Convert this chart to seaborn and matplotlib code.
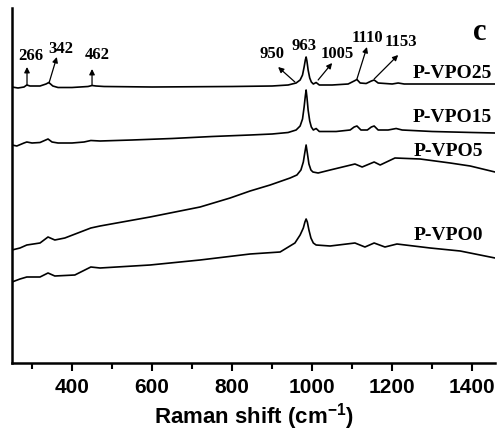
import matplotlib
matplotlib.use("Agg")
import matplotlib.pyplot as plt
import seaborn as sns
import pandas as pd

# ---- data (Raman shift in cm-1, intensity in arbitrary units, offset stacked) ----
x_vpo25 = [250, 265, 280, 287, 295, 320, 335, 342, 352, 365, 400, 440, 450, 460, 480, 600, 800, 900, 940,
           960, 970, 976, 980, 983, 985, 987, 990, 994, 998, 1003, 1010, 1018, 1050, 1090, 1105, 1112,
           1120, 1135, 1148, 1155, 1165, 1200, 1215, 1230, 1300, 1400, 1457]
y_vpo25 = [275, 274, 275, 277, 276, 276, 278, 279.5, 276, 274.5, 274.5, 275.5, 276.5, 276, 275.5, 275, 275.5,
           276, 277, 279, 282, 287, 295, 302, 305, 301, 292, 284, 280, 278, 279.5, 277, 277, 278, 281,
           282.5, 279, 278.5, 281, 282, 279, 278, 279, 278, 278, 278, 278]

x_vpo15 = [250, 262, 280, 287, 300, 320, 340, 350, 365, 400, 430, 447, 470, 550, 650, 750, 845, 900, 940,
           960, 970, 976, 980, 983, 985, 987, 990, 994, 998, 1003, 1010, 1018, 1060, 1095, 1105, 1112,
           1122, 1138, 1148, 1155, 1165, 1190, 1210, 1225, 1300, 1400, 1457]
y_vpo15 = [217, 216, 219, 220, 219, 219.5, 223, 220, 219, 219, 220, 221.5, 221, 222, 223.5, 225.5, 227, 228,
           229.5, 232, 236, 243, 255, 266, 272, 265, 252, 241, 235, 232, 233.5, 230.5, 230.5, 232, 235,
           236, 232, 232, 235, 236, 232, 232, 233.5, 232, 230.5, 229.5, 229]

x_vpo5 = [250, 270, 287, 320, 340, 357, 382, 447, 470, 595, 720, 795, 845, 895, 945, 962, 972, 978, 982,
          985, 988, 992, 997, 1002, 1015, 1045, 1107, 1125, 1155, 1170, 1207, 1270, 1345, 1395, 1457]
y_vpo5 = [112, 114, 117, 119, 125, 122, 124, 134, 136, 145, 155, 164, 171, 177, 184, 187, 192, 200, 210,
          217, 209, 198, 192, 190, 189, 192, 198, 195, 200, 197, 204, 203, 199, 196, 190]

x_vpo0 = [250, 270, 287, 320, 340, 357, 407, 447, 470, 595, 720, 845, 920, 957, 970, 978, 982, 985, 988,
          992, 997, 1003, 1010, 1045, 1107, 1132, 1155, 1182, 1212, 1295, 1370, 1457]
y_vpo0 = [80, 83, 85, 85, 89, 86, 87, 95, 94, 97, 102, 108, 110, 119, 127, 134, 140, 143, 140,
          132, 124, 119, 117, 116, 119, 115, 119, 115, 118, 114, 111, 104]

sample_labels = ["P-VPO25", "P-VPO15", "P-VPO5", "P-VPO0"]
label_x = [1450, 1450, 1427, 1427]
label_y = [288, 245, 210, 126]

peak_labels = ["266", "342", "462", "950", "963", "1005", "1110", "1153"]
peak_text_xy = [(297, 306), (372, 313), (462, 307), (900, 308), (980, 316), (1062, 308), (1137, 324), (1222, 320)]
peak_arrow_from = [(287.5, 277), (342.5, 279), (450, 277), (957, 280), None, (1015, 282), (1112, 283), (1155, 283)]
peak_arrow_to = [(287.5, 295), (362, 305), (450, 293), (915, 295), None, (1050, 299), (1137, 315), (1215, 307)]

x_ticks = [400, 600, 800, 1000, 1200, 1400]
x_minor_ticks = [300, 500, 700, 900, 1100, 1300]

# ---- style ----
sns.set_theme(style="ticks")
plt.rcParams["font.family"] = ["Liberation Sans", "DejaVu Sans"]
plt.rcParams["text.color"] = "black"
plt.rcParams["axes.labelcolor"] = "black"
plt.rcParams["xtick.color"] = "black"
plt.rcParams["mathtext.fontset"] = "custom"
plt.rcParams["mathtext.rm"] = "Liberation Sans:bold"
plt.rcParams["mathtext.it"] = "Liberation Sans:bold"
plt.rcParams["mathtext.bf"] = "Liberation Sans:bold"

fig = plt.figure(figsize=(5.01, 4.32), dpi=100)
ax = fig.add_axes([12 / 501, 69 / 432, 483 / 501, 355 / 432])

series = [(x_vpo25, y_vpo25), (x_vpo15, y_vpo15), (x_vpo5, y_vpo5), (x_vpo0, y_vpo0)]
for (xs, ys), name in zip(series, sample_labels):
    df = pd.DataFrame({"x": xs, "y": ys})
    sns.lineplot(data=df, x="x", y="y", ax=ax, color="black", linewidth=1.2,
                 estimator=None, sort=False, legend=False)

for name, lx, ly in zip(sample_labels, label_x, label_y):
    ax.text(lx, ly, name, ha="right", va="center", fontsize=14, fontweight="bold",
            family="Liberation Serif", color="black")

for lab, (tx, ty), a0, a1 in zip(peak_labels, peak_text_xy, peak_arrow_from, peak_arrow_to):
    ax.text(tx, ty, lab, ha="center", va="center", fontsize=12, fontweight="bold",
            family="Liberation Serif", color="black")
    if a0 is not None:
        ax.annotate("", xy=a1, xytext=a0,
                    arrowprops=dict(arrowstyle="-|>", color="black", lw=0.9,
                                    mutation_scale=8, shrinkA=0, shrinkB=0))

ax.text(1420, 330, "c", ha="center", va="center", fontsize=22, fontweight="bold",
        family="Liberation Serif", color="black")

ax.set_xlim(250, 1457)
ax.set_ylim(-1, 354)
ax.set_xticks(x_ticks)
ax.set_xticks(x_minor_ticks, minor=True)
ax.set_yticks([])
ax.set_ylabel("")
ax.set_xlabel(r"Raman shift (cm$^{-1}$)", fontsize=16, fontweight="bold", labelpad=3, color="black")
for lab in ax.get_xticklabels():
    lab.set_fontweight("bold")
ax.tick_params(axis="x", which="major", direction="out", length=6, width=1.5, labelsize=15, pad=5,
               color="black", labelcolor="black")
ax.tick_params(axis="x", which="minor", direction="out", length=4, width=1.5, color="black")
for s in ["top", "right"]:
    ax.spines[s].set_visible(False)
for s in ["left", "bottom"]:
    ax.spines[s].set_linewidth(1.8)
    ax.spines[s].set_color("black")
ax.set_facecolor("white")
fig.patch.set_facecolor("white")

fig.savefig("out.png", dpi=100)
